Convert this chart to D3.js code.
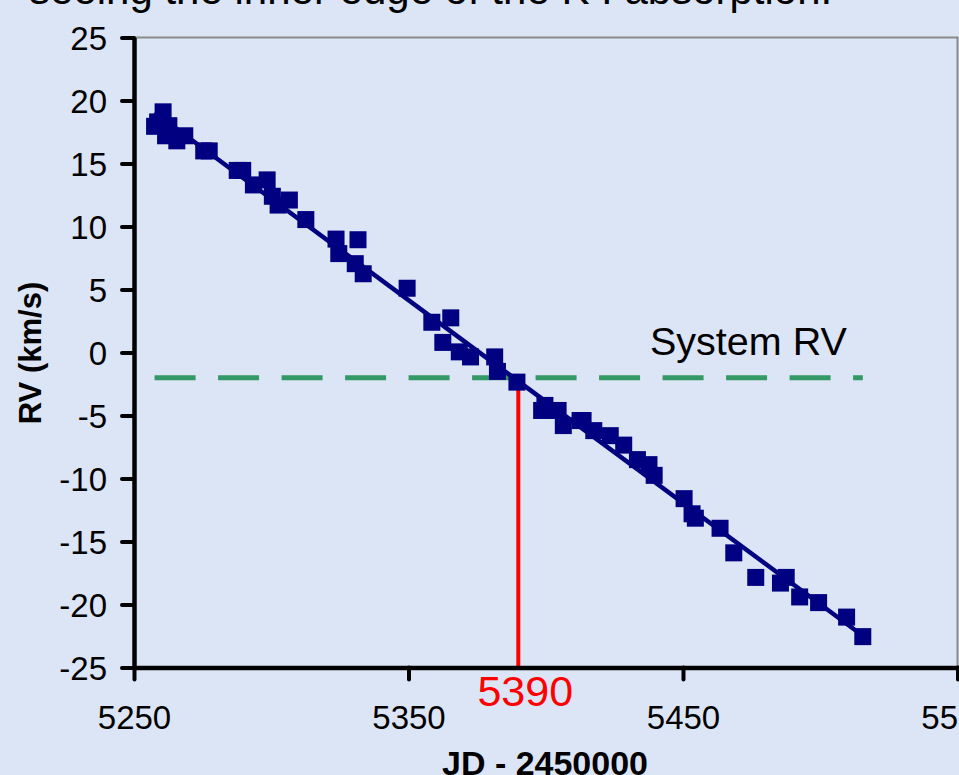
<!DOCTYPE html>
<html>
<head>
<meta charset="utf-8">
<script src="https://cdn.jsdelivr.net/npm/d3@7/dist/d3.min.js"></script>
<style>
  html, body { margin: 0; padding: 0; background: #dce5f5; }
  svg { display: block; }
  text { font-family: "Liberation Sans", Arial, Helvetica, sans-serif; }
</style>
</head>
<body>
<svg id="chart" width="959" height="775"></svg>
<script>
// Radial-velocity measurements (JD - 2450000, km/s)
const jd = [
  5257.5, 5258.6, 5260.6, 5261.5, 5262.7, 5265.6, 5268.5, 5275.4, 5277.4,
  5287.6, 5289.6, 5293.5, 5298.5, 5300.4, 5302.5, 5306.6, 5312.6,
  5323.6, 5324.6, 5330.6, 5331.6, 5333.5, 5349.5, 5358.5, 5362.5,
  5365.4, 5368.5, 5372.6, 5381.4, 5382.4, 5389.5, 5398.5, 5399.7,
  5404.5, 5406.4, 5412.5, 5413.6, 5417.5, 5423.5, 5428.4, 5433.4,
  5437.6, 5439.5, 5450.4, 5453.3, 5454.5, 5463.5, 5468.5, 5476.5,
  5485.5, 5487.6, 5492.5, 5499.4, 5509.6, 5515.5
];
const rv = [
  17.95, 18.3, 19.1, 17.2, 18.0, 16.8, 17.2, 16.0, 16.0,
  14.45, 14.45, 13.3, 13.7, 12.4, 11.7, 12.1, 10.55,
  9.0, 7.85, 7.05, 8.95, 6.25, 5.1, 2.4, 0.8,
  2.75, 0.05, -0.35, -0.35, -1.5, -2.35, -4.6, -4.2,
  -4.6, -5.8, -5.4, -5.4, -6.2, -6.6, -7.35, -8.5,
  -8.9, -9.75, -11.6, -12.8, -13.15, -13.95, -15.9, -17.85,
  -18.3, -17.85, -19.4, -19.85, -21.0, -22.55
];
const systemRV = -2;
const crossingJD = 5390;
const xTicks = [5250, 5350, 5450, 5550];
const yTicks = [-25, -20, -15, -10, -5, 0, 5, 10, 15, 20, 25];
const titleText = "seeing the inner edge of the  K I absorption.";

const svg = d3.select("#chart");
const x = d3.scaleLinear().domain([5250, 5550]).range([134, 957.5]);
const y = d3.scaleLinear().domain([-25, 25]).range([667.5, 37.5]);
const plain = d => String(d); // hyphen-minus, as on the slide

// Slide text running above the chart
svg.append("text")
  .attr("x", 29).attr("y", 4)
  .attr("font-size", 42)
  .attr("fill", "#000")
  .text(titleText);

// Plot-area frame (top and right edges remain visible)
svg.append("rect")
  .attr("x", x(5250)).attr("y", y(25))
  .attr("width", x(5550) - x(5250)).attr("height", y(-25) - y(25))
  .attr("fill", "none").attr("stroke", "#8a8a8a").attr("stroke-width", 2);

// Least-squares trend line over the observed range
const n = jd.length;
const mx = d3.mean(jd), my = d3.mean(rv);
let sxy = 0, sxx = 0;
for (let i = 0; i < n; i++) { sxy += (jd[i] - mx) * (rv[i] - my); sxx += (jd[i] - mx) ** 2; }
const slope = sxy / sxx, icpt = my - slope * mx;
const [jMin, jMax] = d3.extent(jd);
const trend = [jMin, jMax].map(j => [j, icpt + slope * j]);

// System RV reference (dashed) across the observed range
svg.append("line")
  .attr("x1", x(jMin)).attr("x2", x(jMax))
  .attr("y1", y(systemRV)).attr("y2", y(systemRV))
  .attr("stroke", "#339966").attr("stroke-width", 5)
  .attr("stroke-dasharray", "41 22.5");

svg.append("text")
  .attr("x", 650).attr("y", 355)
  .attr("font-size", 39.5)
  .attr("fill", "#000")
  .text("System RV");

// Crossing epoch marker
svg.append("line")
  .attr("x1", x(crossingJD)).attr("x2", x(crossingJD))
  .attr("y1", y(systemRV)).attr("y2", y(-25))
  .attr("stroke", "#ff0000").attr("stroke-width", 4);

// Trend line
svg.append("path")
  .attr("d", d3.line().x(d => x(d[0])).y(d => y(d[1]))(trend))
  .attr("fill", "none").attr("stroke", "#000080").attr("stroke-width", 4.5);

// Observation markers
const ms = 17;
svg.append("g").selectAll("rect")
  .data(jd.map((j, i) => [j, rv[i]]))
  .join("rect")
  .attr("x", d => x(d[0]) - ms / 2).attr("y", d => y(d[1]) - ms / 2)
  .attr("width", ms).attr("height", ms)
  .attr("fill", "#000080");

// Axes
const yAxis = svg.append("g")
  .attr("transform", `translate(${x(5250)},0)`)
  .call(d3.axisLeft(y).tickValues(yTicks).tickSizeInner(12).tickSizeOuter(0).tickPadding(15).tickFormat(plain));
const xAxis = svg.append("g")
  .attr("transform", `translate(0,${y(-25)})`)
  .call(d3.axisBottom(x).tickValues(xTicks).tickSizeInner(12).tickSizeOuter(0).tickPadding(26).tickFormat(plain));

[yAxis, xAxis].forEach(g => {
  g.select(".domain").attr("stroke", "#000").attr("stroke-width", 4.5);
  g.selectAll(".tick line").attr("stroke", "#000").attr("stroke-width", 4).attr("stroke-linecap", "round");
  g.selectAll(".tick text")
    .attr("font-size", 33)
    .attr("font-family", "\"Liberation Sans\", Arial, sans-serif")
    .attr("fill", "#000");
});
yAxis.selectAll(".tick text").attr("dy", "0.36em");

// Crossing label
svg.append("text")
  .attr("x", x(crossingJD) + 7).attr("y", 706)
  .attr("text-anchor", "middle")
  .attr("font-size", 43)
  .attr("fill", "#ff0000")
  .text(plain(crossingJD));

// Axis titles
svg.append("text")
  .attr("x", 545).attr("y", 775)
  .attr("text-anchor", "middle")
  .attr("font-size", 34).attr("font-weight", "bold")
  .text("JD - 2450000");

svg.append("text")
  .attr("transform", "translate(41,353) rotate(-90)")
  .attr("text-anchor", "middle")
  .attr("font-size", 31).attr("font-weight", "bold")
  .text("RV (km/s)");
</script>
</body>
</html>
